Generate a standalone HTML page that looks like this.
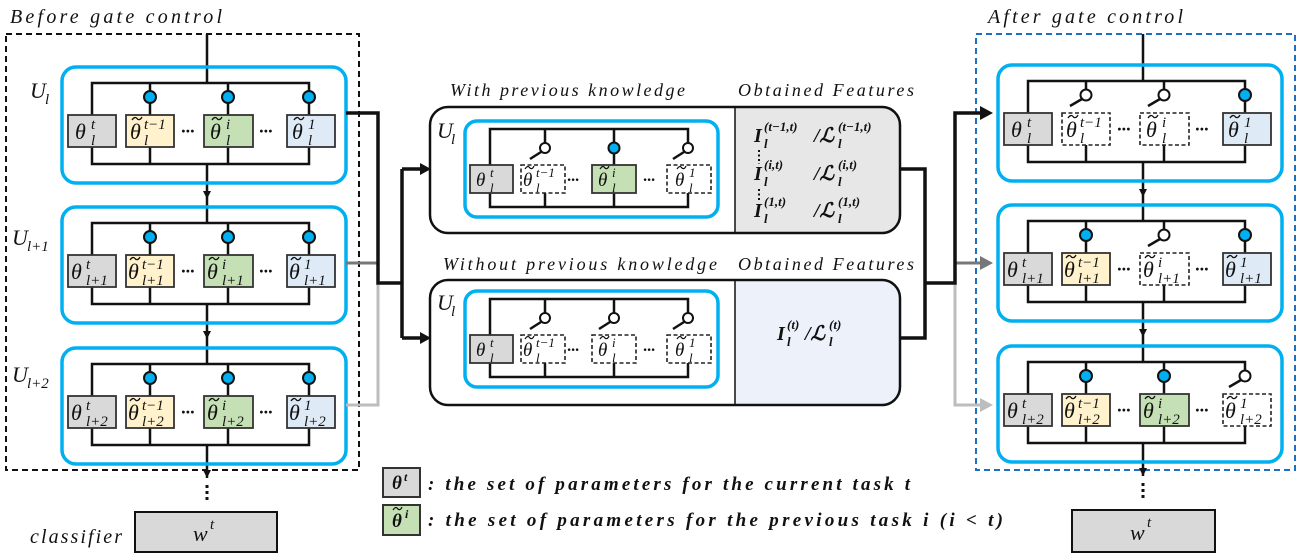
<!DOCTYPE html>
<html><head><meta charset="utf-8"><style>
html,body{margin:0;padding:0;background:#fff;}
svg{display:block;}
text{font-family:"Liberation Serif","DejaVu Serif",serif;font-style:italic;fill:#111;}
.u{fill:none;stroke:#00b0f0;stroke-width:3.5;}
.w{fill:none;stroke:#111;stroke-width:2.5;}
.k{fill:#00b0f0;stroke:#111;stroke-width:2;}
.o{fill:#fff;stroke:#111;stroke-width:2;}
.bx{stroke:#333;stroke-width:1.8;}
.dsh{fill:#fff;stroke:#222;stroke-width:1.6;stroke-dasharray:4 2.5;}
.b{font-size:22px;}
.s{font-size:15px;}
.mb{font-size:19px;}
.ms{font-size:13px;}
.f{font-weight:bold;}
</style></head><body>
<svg width="1301" height="559" viewBox="0 0 1301 559" xmlns="http://www.w3.org/2000/svg">
<defs>
<path id="tl" d="M0 3c2-3 4-3 5-1.5s3 2 5-1.5" fill="none" stroke="#111" stroke-width="1.3"/>
<path id="ts" d="M0 3c2-3 3.5-3 4.5-1.5s3 2 4.5-1.5" fill="none" stroke="#111" stroke-width="1.2"/>
</defs>

<text x="10" y="23" font-size="20" textLength="212" lengthAdjust="spacing">Before gate control</text>
<text x="988" y="23" font-size="20" textLength="195" lengthAdjust="spacing">After gate control</text>

<rect x="6" y="34" width="353" height="436" fill="none" stroke="#111" stroke-width="2" stroke-dasharray="6 4"/>
<rect x="976" y="34" width="319" height="436" fill="none" stroke="#1f6fc0" stroke-width="2" stroke-dasharray="6 4"/>

<!-- LEFT COLUMN -->
<path class="w" d="M207 34V83 M207 164V223 M207 304V364 M207 445V478"/>
<path d="M203 191L207 199L211 191z M203 331L207 339L211 331z M203 470L207 478L211 470z" fill="#111"/>
<path d="M207 485V501" stroke="#111" stroke-width="3" stroke-dasharray="3 3"/>

<text x="30" y="98" class="b">U</text><text x="45" y="104" class="s">l</text>
<text x="12" y="245" class="b">U</text><text x="27" y="251" class="s">l+1</text>
<text x="12" y="382" class="b">U</text><text x="27" y="388" class="s">l+2</text>

<g>
<rect x="62" y="67" width="284" height="116" rx="14" class="u"/>
<path class="w" d="M92 115V83H309V115 M150 83V115 M228 83V115 M92 147V164H309V147 M150 147V164 M228 147V164"/>
<circle cx="150" cy="97" r="6" class="k"/><circle cx="228" cy="97" r="6" class="k"/><circle cx="309" cy="97" r="6" class="k"/>
<rect x="68" y="115" width="48" height="32" fill="#d9d9d9" class="bx"/>
<rect x="126" y="115" width="48" height="32" fill="#fff2cc" class="bx"/>
<rect x="204" y="115" width="49" height="32" fill="#c5e0b4" class="bx"/>
<rect x="287" y="115" width="48" height="32" fill="#deebf7" class="bx"/>
<text x="181" y="137" font-size="18" font-style="normal" font-weight="bold">···</text>
<text x="259" y="137" font-size="18" font-style="normal" font-weight="bold">···</text>
<text x="75" y="139" class="b">θ</text><text x="91" y="129" class="s">t</text><text x="91" y="145" class="s">l</text>
<text x="130" y="139" class="b">θ</text><use href="#tl" x="132" y="117"/><text x="144" y="129" class="s">t−1</text><text x="144" y="145" class="s">l</text>
<text x="210" y="139" class="b">θ</text><use href="#tl" x="212" y="117"/><text x="226" y="129" class="s">i</text><text x="226" y="145" class="s">l</text>
<text x="292" y="139" class="b">θ</text><use href="#tl" x="294" y="117"/><text x="308" y="129" class="s">1</text><text x="308" y="145" class="s">l</text>
</g>

<g transform="translate(0,140)">
<rect x="62" y="67" width="284" height="116" rx="14" class="u"/>
<path class="w" d="M92 115V83H309V115 M150 83V115 M228 83V115 M92 147V164H309V147 M150 147V164 M228 147V164"/>
<circle cx="150" cy="97" r="6" class="k"/><circle cx="228" cy="97" r="6" class="k"/><circle cx="309" cy="97" r="6" class="k"/>
<rect x="68" y="115" width="48" height="32" fill="#d9d9d9" class="bx"/>
<rect x="126" y="115" width="48" height="32" fill="#fff2cc" class="bx"/>
<rect x="204" y="115" width="49" height="32" fill="#c5e0b4" class="bx"/>
<rect x="287" y="115" width="48" height="32" fill="#deebf7" class="bx"/>
<text x="181" y="137" font-size="18" font-style="normal" font-weight="bold">···</text>
<text x="259" y="137" font-size="18" font-style="normal" font-weight="bold">···</text>
<text x="71" y="139" class="b">θ</text><text x="86" y="129" class="s">t</text><text x="86" y="145" class="s">l+1</text>
<text x="128" y="139" class="b">θ</text><use href="#tl" x="130" y="117"/><text x="142" y="129" class="s">t−1</text><text x="142" y="145" class="s">l+1</text>
<text x="207" y="139" class="b">θ</text><use href="#tl" x="209" y="117"/><text x="222" y="129" class="s">i</text><text x="222" y="145" class="s">l+1</text>
<text x="289" y="139" class="b">θ</text><use href="#tl" x="291" y="117"/><text x="304" y="129" class="s">1</text><text x="304" y="145" class="s">l+1</text>
</g>

<g transform="translate(0,281)">
<rect x="62" y="67" width="284" height="116" rx="14" class="u"/>
<path class="w" d="M92 115V83H309V115 M150 83V115 M228 83V115 M92 147V164H309V147 M150 147V164 M228 147V164"/>
<circle cx="150" cy="97" r="6" class="k"/><circle cx="228" cy="97" r="6" class="k"/><circle cx="309" cy="97" r="6" class="k"/>
<rect x="68" y="115" width="48" height="32" fill="#d9d9d9" class="bx"/>
<rect x="126" y="115" width="48" height="32" fill="#fff2cc" class="bx"/>
<rect x="204" y="115" width="49" height="32" fill="#c5e0b4" class="bx"/>
<rect x="287" y="115" width="48" height="32" fill="#deebf7" class="bx"/>
<text x="181" y="137" font-size="18" font-style="normal" font-weight="bold">···</text>
<text x="259" y="137" font-size="18" font-style="normal" font-weight="bold">···</text>
<text x="71" y="139" class="b">θ</text><text x="86" y="129" class="s">t</text><text x="86" y="145" class="s">l+2</text>
<text x="128" y="139" class="b">θ</text><use href="#tl" x="130" y="117"/><text x="142" y="129" class="s">t−1</text><text x="142" y="145" class="s">l+2</text>
<text x="207" y="139" class="b">θ</text><use href="#tl" x="209" y="117"/><text x="222" y="129" class="s">i</text><text x="222" y="145" class="s">l+2</text>
<text x="289" y="139" class="b">θ</text><use href="#tl" x="291" y="117"/><text x="304" y="129" class="s">1</text><text x="304" y="145" class="s">l+2</text>
</g>

<text x="30" y="543" font-size="20" textLength="92" lengthAdjust="spacing">classifier</text>
<rect x="135" y="512" width="142" height="40" fill="#d9d9d9" stroke="#111" stroke-width="2"/>
<text x="193" y="541" font-size="22">w</text><text x="210" y="529" font-size="15">t</text>

<!-- left connectors -->
<path d="M346 405H378V283H402" fill="none" stroke="#bdbdbd" stroke-width="3"/>
<path d="M346 263H378" fill="none" stroke="#777" stroke-width="3"/>
<path d="M346 113H378V283H402" fill="none" stroke="#111" stroke-width="3.5"/>
<path d="M402 169V338 M402 169H421 M402 338H421" fill="none" stroke="#111" stroke-width="3.5"/>
<path d="M420 163L431 169L420 175z M420 332L431 338L420 344z" fill="#111"/>

<!-- MIDDLE TOP -->
<text x="450" y="96" font-size="18" textLength="235" lengthAdjust="spacing">With previous knowledge</text>
<text x="738" y="96" font-size="18" textLength="176" lengthAdjust="spacing">Obtained Features</text>
<path d="M735 107H882A18 18 0 0 1 900 125V215A18 18 0 0 1 882 233H735z" fill="#e7e7e7"/>
<rect x="430" y="107" width="470" height="126" rx="18" fill="none" stroke="#111" stroke-width="2.5"/>
<path d="M735 107V233" stroke="#111" stroke-width="1.5"/>
<text x="437" y="138" class="b">U</text><text x="451" y="144" class="s">l</text>
<rect x="465" y="121" width="253" height="96" rx="12" class="u"/>
<path class="w" d="M490 165V129H688V143 M545 129V143 M614 129V165 M490 193V207H688V193 M545 193V207 M614 193V207"/>
<circle cx="545" cy="148" r="5" class="o"/><path class="w" d="M541 152L530 159"/>
<circle cx="614" cy="148" r="5.5" class="k"/>
<circle cx="688" cy="148" r="5" class="o"/><path class="w" d="M684 152L673 159"/>
<rect x="470" y="165" width="43" height="28" fill="#d9d9d9" class="bx"/>
<rect x="521" y="165" width="44" height="28" class="dsh"/>
<rect x="592" y="165" width="44" height="28" fill="#c5e0b4" class="bx"/>
<rect x="667" y="165" width="44" height="28" class="dsh"/>
<text x="567" y="185" font-size="16" font-style="normal" font-weight="bold">···</text>
<text x="643" y="185" font-size="16" font-style="normal" font-weight="bold">···</text>
<text x="476" y="186" class="mb">θ</text><text x="490" y="177" class="ms">t</text><text x="490" y="192" class="ms">l</text>
<text x="523" y="186" class="mb">θ</text><use href="#ts" x="525" y="166"/><text x="536" y="177" class="ms">t−1</text><text x="536" y="192" class="ms">l</text>
<text x="598" y="186" class="mb">θ</text><use href="#ts" x="600" y="166"/><text x="612" y="177" class="ms">i</text><text x="612" y="192" class="ms">l</text>
<text x="675" y="186" class="mb">θ</text><use href="#ts" x="677" y="166"/><text x="689" y="177" class="ms">1</text><text x="689" y="192" class="ms">l</text>
<g>
<text x="754" y="142" font-size="20" font-weight="bold">I</text><text x="764" y="131" font-size="13" font-weight="bold">(t−1,t)</text><text x="764" y="148" font-size="13" font-weight="bold">l</text>
<text x="814" y="142" font-size="20" font-weight="bold">/ℒ</text><text x="838" y="131" font-size="13" font-weight="bold">(t−1,t)</text><text x="838" y="148" font-size="13" font-weight="bold">l</text>
<text x="754" y="180" font-size="20" font-weight="bold">I</text><text x="764" y="169" font-size="13" font-weight="bold">(i,t)</text><text x="764" y="186" font-size="13" font-weight="bold">l</text>
<text x="814" y="180" font-size="20" font-weight="bold">/ℒ</text><text x="838" y="169" font-size="13" font-weight="bold">(i,t)</text><text x="838" y="186" font-size="13" font-weight="bold">l</text>
<text x="754" y="217" font-size="20" font-weight="bold">I</text><text x="764" y="206" font-size="13" font-weight="bold">(1,t)</text><text x="764" y="223" font-size="13" font-weight="bold">l</text>
<text x="814" y="217" font-size="20" font-weight="bold">/ℒ</text><text x="838" y="206" font-size="13" font-weight="bold">(1,t)</text><text x="838" y="223" font-size="13" font-weight="bold">l</text>
</g>
<path d="M759 150V164 M759 189V202" stroke="#111" stroke-width="2" stroke-dasharray="2 2.5"/>

<!-- MIDDLE BOTTOM -->
<text x="443" y="270" font-size="18" textLength="274" lengthAdjust="spacing">Without previous knowledge</text>
<text x="738" y="270" font-size="18" textLength="176" lengthAdjust="spacing">Obtained Features</text>
<path d="M735 280H882A18 18 0 0 1 900 298V387A18 18 0 0 1 882 405H735z" fill="#edf2fa"/>
<rect x="430" y="280" width="470" height="125" rx="18" fill="none" stroke="#111" stroke-width="2.5"/>
<path d="M735 280V405" stroke="#111" stroke-width="1.5"/>
<text x="437" y="310" class="b">U</text><text x="451" y="316" class="s">l</text>
<g transform="translate(0,170)">
<rect x="465" y="121" width="253" height="96" rx="12" class="u"/>
<path class="w" d="M490 165V129H688V143 M545 129V143 M614 129V143 M490 193V207H688V193 M545 193V207 M614 193V207"/>
<circle cx="545" cy="148" r="5" class="o"/><path class="w" d="M541 152L530 159"/>
<circle cx="614" cy="148" r="5" class="o"/><path class="w" d="M610 152L599 159"/>
<circle cx="688" cy="148" r="5" class="o"/><path class="w" d="M684 152L673 159"/>
<rect x="470" y="165" width="43" height="28" fill="#d9d9d9" class="bx"/>
<rect x="521" y="165" width="44" height="28" class="dsh"/>
<rect x="592" y="165" width="44" height="28" class="dsh"/>
<rect x="667" y="165" width="44" height="28" class="dsh"/>
<text x="567" y="185" font-size="16" font-style="normal" font-weight="bold">···</text>
<text x="643" y="185" font-size="16" font-style="normal" font-weight="bold">···</text>
<text x="476" y="186" class="mb">θ</text><text x="490" y="177" class="ms">t</text><text x="490" y="192" class="ms">l</text>
<text x="523" y="186" class="mb">θ</text><use href="#ts" x="525" y="166"/><text x="536" y="177" class="ms">t−1</text><text x="536" y="192" class="ms">l</text>
<text x="598" y="186" class="mb">θ</text><use href="#ts" x="600" y="166"/><text x="612" y="177" class="ms">i</text><text x="612" y="192" class="ms">l</text>
<text x="675" y="186" class="mb">θ</text><use href="#ts" x="677" y="166"/><text x="689" y="177" class="ms">1</text><text x="689" y="192" class="ms">l</text>
</g>
<text x="777" y="340" font-size="20" font-weight="bold">I</text><text x="787" y="329" font-size="13" font-weight="bold">(t)</text><text x="787" y="346" font-size="13" font-weight="bold">l</text>
<text x="805" y="340" font-size="20" font-weight="bold">/ℒ</text><text x="829" y="329" font-size="13" font-weight="bold">(t)</text><text x="829" y="346" font-size="13" font-weight="bold">l</text>

<!-- right connectors -->
<path d="M955 283V405H982" fill="none" stroke="#bdbdbd" stroke-width="3"/>
<path d="M980 398L993 405L980 412z" fill="#bdbdbd"/>
<path d="M955 263H982" fill="none" stroke="#777" stroke-width="3"/>
<path d="M980 256L993 263L980 270z" fill="#777"/>
<path d="M900 169H925V338H900 M925 283H955V113H982" fill="none" stroke="#111" stroke-width="3.5"/>
<path d="M980 106L993 113L980 120z" fill="#111"/>

<!-- RIGHT COLUMN -->
<g transform="translate(936,-2)">
<path class="w" d="M207 36V83 M207 164V223 M207 304V364 M207 445V478"/>
<path d="M203 191L207 199L211 191z M203 331L207 339L211 331z M203 470L207 478L211 470z" fill="#111"/>
<path d="M207 485V501" stroke="#111" stroke-width="3" stroke-dasharray="3 3"/>

<rect x="62" y="67" width="284" height="116" rx="14" class="u"/>
<path class="w" d="M92 115V83H309V115 M150 83V91 M228 83V91 M92 147V164H309V147 M150 147V164 M228 147V164"/>
<circle cx="150" cy="97" r="5.5" class="o"/><path class="w" d="M146 101L134 108"/>
<circle cx="228" cy="97" r="5.5" class="o"/><path class="w" d="M224 101L212 108"/>
<circle cx="309" cy="97" r="6" class="k"/>
<rect x="68" y="115" width="48" height="32" fill="#d9d9d9" class="bx"/>
<rect x="126" y="115" width="48" height="32" class="dsh"/>
<rect x="204" y="115" width="49" height="32" class="dsh"/>
<rect x="287" y="115" width="48" height="32" fill="#deebf7" class="bx"/>
<text x="181" y="137" font-size="18" font-style="normal" font-weight="bold">···</text>
<text x="259" y="137" font-size="18" font-style="normal" font-weight="bold">···</text>
<text x="75" y="139" class="b">θ</text><text x="91" y="129" class="s">t</text><text x="91" y="145" class="s">l</text>
<text x="130" y="139" class="b">θ</text><use href="#tl" x="132" y="117"/><text x="144" y="129" class="s">t−1</text><text x="144" y="145" class="s">l</text>
<text x="210" y="139" class="b">θ</text><use href="#tl" x="212" y="117"/><text x="226" y="129" class="s">i</text><text x="226" y="145" class="s">l</text>
<text x="292" y="139" class="b">θ</text><use href="#tl" x="294" y="117"/><text x="308" y="129" class="s">1</text><text x="308" y="145" class="s">l</text>

<g transform="translate(0,140)">
<rect x="62" y="67" width="284" height="116" rx="14" class="u"/>
<path class="w" d="M92 115V83H309V115 M150 83V115 M228 83V91 M92 147V164H309V147 M150 147V164 M228 147V164"/>
<circle cx="150" cy="97" r="6" class="k"/>
<circle cx="228" cy="97" r="5.5" class="o"/><path class="w" d="M224 101L212 108"/>
<circle cx="309" cy="97" r="6" class="k"/>
<rect x="68" y="115" width="48" height="32" fill="#d9d9d9" class="bx"/>
<rect x="126" y="115" width="48" height="32" fill="#fff2cc" class="bx"/>
<rect x="204" y="115" width="49" height="32" class="dsh"/>
<rect x="287" y="115" width="48" height="32" fill="#deebf7" class="bx"/>
<text x="181" y="137" font-size="18" font-style="normal" font-weight="bold">···</text>
<text x="259" y="137" font-size="18" font-style="normal" font-weight="bold">···</text>
<text x="71" y="139" class="b">θ</text><text x="86" y="129" class="s">t</text><text x="86" y="145" class="s">l+1</text>
<text x="128" y="139" class="b">θ</text><use href="#tl" x="130" y="117"/><text x="142" y="129" class="s">t−1</text><text x="142" y="145" class="s">l+1</text>
<text x="207" y="139" class="b">θ</text><use href="#tl" x="209" y="117"/><text x="222" y="129" class="s">i</text><text x="222" y="145" class="s">l+1</text>
<text x="289" y="139" class="b">θ</text><use href="#tl" x="291" y="117"/><text x="304" y="129" class="s">1</text><text x="304" y="145" class="s">l+1</text>
</g>

<g transform="translate(0,281)">
<rect x="62" y="67" width="284" height="116" rx="14" class="u"/>
<path class="w" d="M92 115V83H309V91 M150 83V115 M228 83V115 M92 147V164H309V147 M150 147V164 M228 147V164"/>
<circle cx="150" cy="97" r="6" class="k"/>
<circle cx="228" cy="97" r="6" class="k"/>
<circle cx="309" cy="97" r="5.5" class="o"/><path class="w" d="M305 101L293 108"/>
<rect x="68" y="115" width="48" height="32" fill="#d9d9d9" class="bx"/>
<rect x="126" y="115" width="48" height="32" fill="#fff2cc" class="bx"/>
<rect x="204" y="115" width="49" height="32" fill="#c5e0b4" class="bx"/>
<rect x="287" y="115" width="48" height="32" class="dsh"/>
<text x="181" y="137" font-size="18" font-style="normal" font-weight="bold">···</text>
<text x="259" y="137" font-size="18" font-style="normal" font-weight="bold">···</text>
<text x="71" y="139" class="b">θ</text><text x="86" y="129" class="s">t</text><text x="86" y="145" class="s">l+2</text>
<text x="128" y="139" class="b">θ</text><use href="#tl" x="130" y="117"/><text x="142" y="129" class="s">t−1</text><text x="142" y="145" class="s">l+2</text>
<text x="207" y="139" class="b">θ</text><use href="#tl" x="209" y="117"/><text x="222" y="129" class="s">i</text><text x="222" y="145" class="s">l+2</text>
<text x="289" y="139" class="b">θ</text><use href="#tl" x="291" y="117"/><text x="304" y="129" class="s">1</text><text x="304" y="145" class="s">l+2</text>
</g>
</g>

<rect x="1072" y="510" width="143" height="42" fill="#d9d9d9" stroke="#111" stroke-width="2"/>
<text x="1130" y="540" font-size="22">w</text><text x="1147" y="527" font-size="15">t</text>

<!-- legend -->
<rect x="383" y="468" width="37" height="29" fill="#d9d9d9" stroke="#333" stroke-width="2"/>
<text x="392" y="489" font-size="19" font-weight="bold">θ</text><text x="404" y="481" font-size="12" font-weight="bold">t</text>
<rect x="383" y="505" width="37" height="30" fill="#c5e0b4" stroke="#333" stroke-width="2"/>
<text x="392" y="527" font-size="19" font-weight="bold">θ</text><use href="#ts" x="393" y="507"/><text x="405" y="518" font-size="12" font-weight="bold">i</text>
<text x="428" y="490" font-size="19" font-weight="bold" textLength="482" lengthAdjust="spacing">: the set of parameters for the current task t</text>
<text x="428" y="526" font-size="19" font-weight="bold" textLength="575" lengthAdjust="spacing">: the set of parameters for the previous task  i (i &lt; t)</text>
</svg>
</body></html>
